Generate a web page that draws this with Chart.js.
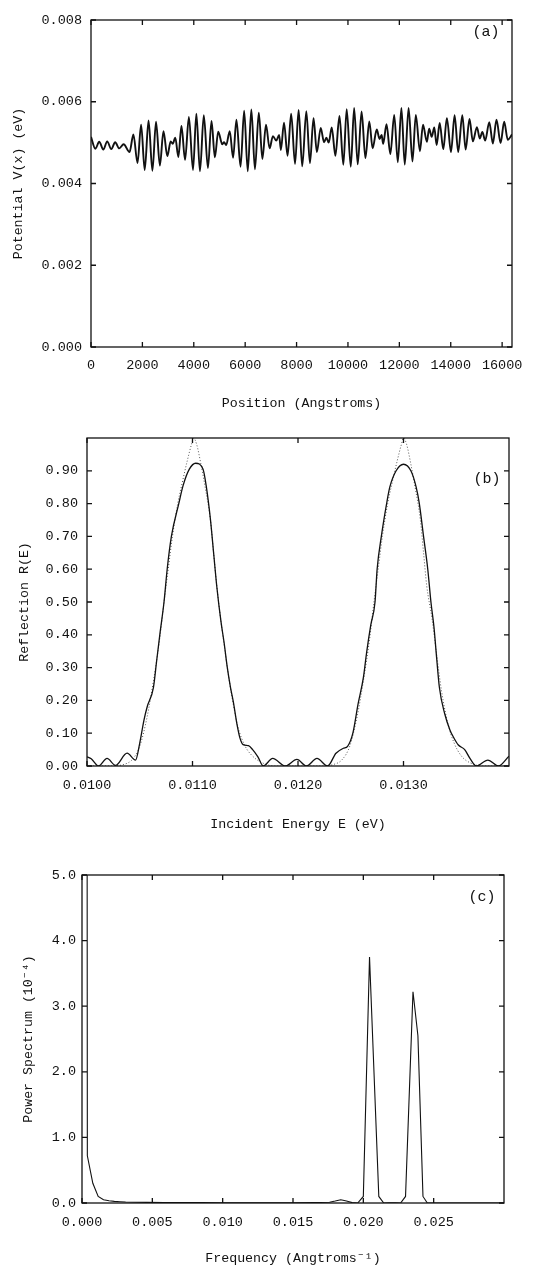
<!DOCTYPE html>
<html>
<head>
<meta charset="utf-8">
<script src="https://cdn.jsdelivr.net/npm/chart.js@4.4.1/dist/chart.umd.min.js"></script>
<style>
  html, body { margin: 0; padding: 0; background: #fff; }
  #wrap { position: relative; width: 556px; height: 1268px; overflow: hidden; }
  canvas { position: absolute; left: 0; }
</style>
</head>
<body>
<div id="wrap">
  <canvas id="chartA" width="556" height="420" style="top:0px"></canvas>
  <canvas id="chartB" width="556" height="420" style="top:420px"></canvas>
  <canvas id="chartC" width="556" height="428" style="top:840px"></canvas>
</div>
<script>
// (a) potential vs position (turning points of the wave)
const posX = [0, 170, 320, 480, 630, 790, 940, 1100, 1270, 1500,
  1650, 1810, 1950, 2090, 2240, 2390, 2530, 2680, 2820, 2970,
  3100, 3180, 3280, 3400, 3520, 3660, 3810, 3970, 4100, 4240,
  4390, 4550, 4690, 4820, 4950, 5110, 5180, 5260, 5400, 5530,
  5660, 5820, 5960, 6100, 6240, 6380, 6530, 6670, 6810, 6950,
  7080, 7210, 7320, 7390, 7510, 7650, 7790, 7940, 8080, 8220,
  8380, 8520, 8660, 8790, 8940, 9070, 9160, 9250, 9370, 9510,
  9670, 9820, 9950, 10110, 10240, 10380, 10530, 10680, 10830, 10960,
  11120, 11230, 11310, 11370, 11500, 11650, 11800, 11940, 12080, 12210,
  12360, 12510, 12640, 12800, 12920, 13070, 13160, 13260, 13360, 13450,
  13570, 13710, 13850, 14010, 14150, 14290, 14450, 14580, 14730, 14860,
  15020, 15130, 15230, 15340, 15500, 15640, 15780, 15940, 16080, 16220, 16384];
const potV = [0.00514, 0.00485, 0.00502, 0.00483, 0.00503, 0.00484, 0.00501, 0.00486, 0.00496, 0.00477,
  0.00520, 0.00450, 0.00544, 0.00433, 0.00554, 0.00431, 0.00551, 0.00444, 0.00528, 0.00467,
  0.00503, 0.00497, 0.00512, 0.00465, 0.00541, 0.00458, 0.00563, 0.00433, 0.00571, 0.00430,
  0.00567, 0.00438, 0.00553, 0.00464, 0.00527, 0.00496, 0.00501, 0.00494, 0.00528, 0.00463,
  0.00556, 0.00441, 0.00578, 0.00430, 0.00581, 0.00435, 0.00573, 0.00460, 0.00544, 0.00486,
  0.00516, 0.00505, 0.00519, 0.00482, 0.00549, 0.00468, 0.00571, 0.00448, 0.00580, 0.00442,
  0.00577, 0.00450, 0.00560, 0.00477, 0.00536, 0.00501, 0.00512, 0.00500, 0.00537, 0.00468,
  0.00565, 0.00446, 0.00582, 0.00441, 0.00585, 0.00447, 0.00576, 0.00462, 0.00552, 0.00486,
  0.00532, 0.00509, 0.00519, 0.00497, 0.00545, 0.00472, 0.00568, 0.00452, 0.00585, 0.00446,
  0.00585, 0.00454, 0.00568, 0.00479, 0.00544, 0.00502, 0.00534, 0.00514, 0.00537, 0.00494,
  0.00548, 0.00484, 0.00560, 0.00477, 0.00567, 0.00477, 0.00567, 0.00483, 0.00558, 0.00503,
  0.00538, 0.00510, 0.00526, 0.00505, 0.00550, 0.00498, 0.00556, 0.00499, 0.00551, 0.00507, 0.00520];
const posTicks = [0, 2000, 4000, 6000, 8000, 10000, 12000, 14000, 16000];
const potTicks = [0, 0.002, 0.004, 0.006, 0.008];

// (b) reflection vs incident energy: computed (solid) and model (dotted)
const energyE = [0.01000, 0.01004, 0.01011, 0.01019, 0.01027, 0.01038, 0.01046, 0.01050, 0.01054, 0.01057,
  0.01063, 0.01066, 0.01069, 0.01073, 0.01076, 0.01080, 0.01087, 0.01091, 0.01097, 0.01103,
  0.01110, 0.01113, 0.01117, 0.01120, 0.01123, 0.01127, 0.01130, 0.01133, 0.01136, 0.01139,
  0.01142, 0.01145, 0.01148, 0.01153, 0.01157, 0.01162, 0.01167, 0.01176, 0.01188, 0.01199,
  0.01208, 0.01218, 0.01228, 0.01236, 0.01243, 0.01247, 0.01252, 0.01257, 0.01262, 0.01265,
  0.01269, 0.01273, 0.01275, 0.01279, 0.01284, 0.01287, 0.01293, 0.01300, 0.01307, 0.01312,
  0.01315, 0.01319, 0.01323, 0.01326, 0.01329, 0.01331, 0.01334, 0.01339, 0.01344, 0.01347,
  0.01352, 0.01358, 0.01363, 0.01369, 0.01380, 0.01390, 0.01400];
const reflR = [0.028, 0.022, 0.000, 0.023, 0.002, 0.039, 0.018, 0.070, 0.140, 0.180,
  0.240, 0.320, 0.400, 0.500, 0.600, 0.700, 0.800, 0.854, 0.905, 0.923,
  0.905, 0.854, 0.752, 0.650, 0.548, 0.440, 0.375, 0.300, 0.240, 0.190,
  0.130, 0.085, 0.065, 0.062, 0.050, 0.028, 0.000, 0.023, 0.000, 0.020,
  0.000, 0.023, 0.000, 0.039, 0.054, 0.060, 0.100, 0.190, 0.270, 0.345,
  0.430, 0.500, 0.600, 0.700, 0.800, 0.850, 0.900, 0.920, 0.900, 0.850,
  0.800, 0.700, 0.600, 0.500, 0.420, 0.345, 0.240, 0.160, 0.110, 0.090,
  0.064, 0.050, 0.023, 0.000, 0.018, 0.000, 0.030];
const fitE = [0.01000, 0.01020, 0.01035, 0.01043, 0.01050, 0.01057, 0.01063, 0.01069, 0.01073, 0.01077,
  0.01081, 0.01086, 0.01090, 0.01095, 0.01099, 0.01101, 0.01104, 0.01108, 0.01112, 0.01117,
  0.01120, 0.01123, 0.01127, 0.01130, 0.01133, 0.01138, 0.01143, 0.01150, 0.01157, 0.01166,
  0.01178, 0.01220, 0.01234, 0.01242, 0.01249, 0.01256, 0.01262, 0.01268, 0.01272, 0.01276,
  0.01280, 0.01285, 0.01289, 0.01294, 0.01298, 0.01300, 0.01303, 0.01307, 0.01311, 0.01316,
  0.01319, 0.01322, 0.01327, 0.01331, 0.01336, 0.01342, 0.01348, 0.01355, 0.01363, 0.01375, 0.01400];
const fitR = [0.000, 0.000, 0.005, 0.020, 0.060, 0.150, 0.260, 0.390, 0.500, 0.600,
  0.700, 0.800, 0.860, 0.930, 0.980, 1.000, 0.980, 0.920, 0.850, 0.750,
  0.650, 0.550, 0.440, 0.370, 0.300, 0.200, 0.120, 0.060, 0.030, 0.010,
  0.000, 0.000, 0.005, 0.020, 0.060, 0.150, 0.260, 0.390, 0.500, 0.600,
  0.700, 0.800, 0.860, 0.930, 0.980, 1.000, 0.980, 0.920, 0.850, 0.750,
  0.650, 0.550, 0.450, 0.350, 0.230, 0.130, 0.070, 0.030, 0.010, 0.000, 0.000];
const energyTicks = [0.0100, 0.0110, 0.0120, 0.0130];
const reflTicks = [0, 0.1, 0.2, 0.3, 0.4, 0.5, 0.6, 0.7, 0.8, 0.9];

// (c) power spectrum (units of 1e-4) vs frequency
const freqK = [0, 0.00038, 0.00077, 0.00115, 0.00153, 0.00192, 0.0023, 0.0027, 0.0031, 0.0038,
  0.0046, 0.0058, 0.0070, 0.0085, 0.0100, 0.0115, 0.0130, 0.0150, 0.0165, 0.0176,
  0.0180, 0.0184, 0.0188, 0.0192, 0.0196, 0.0200, 0.02044, 0.0211, 0.02145, 0.0219,
  0.0223, 0.02265, 0.0230, 0.02353, 0.02388, 0.02424, 0.02455, 0.0255, 0.0270, 0.0285, 0.0300];
const powerS = [120, 0.72, 0.30, 0.10, 0.05, 0.035, 0.025, 0.02, 0.015, 0.012,
  0.010, 0.008, 0.006, 0.005, 0.004, 0.004, 0.003, 0.004, 0.006, 0.012,
  0.030, 0.050, 0.030, 0.006, 0.000, 0.100, 3.750, 0.100, 0.000, 0.003,
  0.002, 0.000, 0.100, 3.220, 2.550, 0.100, 0.000, 0.000, 0.000, 0.000, 0.000];
const freqTicks = [0, 0.005, 0.010, 0.015, 0.020, 0.025];
const powerTicks = [0, 1, 2, 3, 4, 5];

const ink = '#111';
const monoFont = '"Liberation Mono", "DejaVu Sans Mono", monospace';

// frame, inward tick marks, axis titles and panel tag
const framePlugin = {
  id: 'frame',
  afterDatasetsDraw(chart, args, opts) {
    const { ctx, chartArea: a, scales: { x, y } } = chart;
    ctx.save();
    ctx.strokeStyle = ink;
    ctx.lineWidth = 1.3;
    ctx.strokeRect(a.left, a.top, a.right - a.left, a.bottom - a.top);
    const len = 5;
    ctx.beginPath();
    x.ticks.forEach(t => {
      const px = x.getPixelForValue(t.value);
      ctx.moveTo(px, a.bottom); ctx.lineTo(px, a.bottom - len);
      ctx.moveTo(px, a.top); ctx.lineTo(px, a.top + len);
    });
    y.ticks.forEach(t => {
      const py = y.getPixelForValue(t.value);
      ctx.moveTo(a.left, py); ctx.lineTo(a.left + len, py);
      ctx.moveTo(a.right, py); ctx.lineTo(a.right - len, py);
    });
    ctx.stroke();

    ctx.fillStyle = ink;
    ctx.textAlign = 'center';
    ctx.textBaseline = 'middle';
    ctx.font = '13.3px ' + monoFont;
    ctx.fillText(opts.xTitle, (a.left + a.right) / 2, a.bottom + opts.xTitleGap);
    ctx.save();
    ctx.translate(opts.yTitleX, (a.top + a.bottom) / 2);
    ctx.rotate(-Math.PI / 2);
    ctx.fillText(opts.yTitle, 0, 0);
    ctx.restore();
    ctx.font = '15px ' + monoFont;
    ctx.fillText(opts.tag, a.right - opts.tagDx, a.top + opts.tagDy);
    ctx.restore();
  }
};

function makePanel(id, p) {
  return new Chart(document.getElementById(id), {
    type: 'line',
    data: { datasets: p.datasets },
    options: {
      responsive: false,
      animation: false,
      devicePixelRatio: 1,
      layout: { padding: p.padding },
      elements: { point: { radius: 0 } },
      plugins: { legend: { display: false }, tooltip: { enabled: false }, frame: p.frame },
      scales: {
        x: {
          type: 'linear', min: p.xMin, max: p.xMax,
          afterBuildTicks: s => { s.ticks = p.xTicks.map(v => ({ value: v })); },
          afterFit: s => { s.height = p.xAxisH; },
          grid: { display: false, drawTicks: false },
          border: { display: false },
          ticks: {
            padding: p.xPad, color: ink, maxRotation: 0, autoSkip: false,
            font: { family: monoFont, size: 13.5 },
            callback: v => v === 0 && p.xDigits === 0 ? '0' : v.toFixed(p.xDigits)
          }
        },
        y: {
          type: 'linear', min: p.yMin, max: p.yMax,
          afterBuildTicks: s => { s.ticks = p.yTicks.map(v => ({ value: v })); },
          afterFit: s => { s.width = p.yAxisW; },
          grid: { display: false, drawTicks: false },
          border: { display: false },
          ticks: {
            padding: p.yPad, color: ink, autoSkip: false,
            font: { family: monoFont, size: 13.5 },
            callback: v => v.toFixed(p.yDigits)
          }
        }
      }
    },
    plugins: [framePlugin]
  });
}

const pts = (xs, ys) => xs.map((x, i) => ({ x: x, y: ys[i] }));

makePanel('chartA', {
  padding: { top: 20, right: 44, left: 0, bottom: 0 },
  xMin: 0, xMax: 16384, yMin: 0, yMax: 0.008,
  xTicks: posTicks, yTicks: potTicks, xDigits: 0, yDigits: 3,
  xAxisH: 73, yAxisW: 91, xPad: 10, yPad: 9,
  frame: { xTitle: 'Position (Angstroms)', xTitleGap: 56, yTitle: 'Potential V(x) (eV)', yTitleX: 18,
           tag: '(a)', tagDx: 26, tagDy: 12 },
  datasets: [{
    data: pts(posX, potV), borderColor: ink, borderWidth: 1.9,
    cubicInterpolationMode: 'monotone', fill: false
  }]
});

makePanel('chartB', {
  padding: { top: 18, right: 47, left: 0, bottom: 0 },
  xMin: 0.0100, xMax: 0.0140, yMin: 0, yMax: 1.0,
  xTicks: energyTicks, yTicks: reflTicks, xDigits: 4, yDigits: 2,
  xAxisH: 74, yAxisW: 87, xPad: 11, yPad: 9,
  frame: { xTitle: 'Incident Energy E (eV)', xTitleGap: 58, yTitle: 'Reflection R(E)', yTitleX: 24,
           tag: '(b)', tagDx: 22, tagDy: 41 },
  datasets: [
    { data: pts(energyE, reflR), borderColor: ink, borderWidth: 1.3,
      cubicInterpolationMode: 'monotone', fill: false },
    { data: pts(fitE, fitR), borderColor: '#555', borderWidth: 1, borderDash: [1, 2],
      cubicInterpolationMode: 'monotone', fill: false }
  ]
});

makePanel('chartC', {
  padding: { top: 35, right: 52, left: 0, bottom: 0 },
  xMin: 0, xMax: 0.030, yMin: 0, yMax: 5.0,
  xTicks: freqTicks, yTicks: powerTicks, xDigits: 3, yDigits: 1,
  xAxisH: 65, yAxisW: 82, xPad: 11, yPad: 6,
  frame: { xTitle: 'Frequency (Angtroms\u207B\u00B9)', xTitleGap: 55, yTitle: 'Power Spectrum (10\u207B\u2074)', yTitleX: 28,
           tag: '(c)', tagDx: 22, tagDy: 22 },
  datasets: [{
    data: pts(freqK, powerS), borderColor: ink, borderWidth: 1.1, tension: 0, fill: false
  }]
});
</script>
</body>
</html>
